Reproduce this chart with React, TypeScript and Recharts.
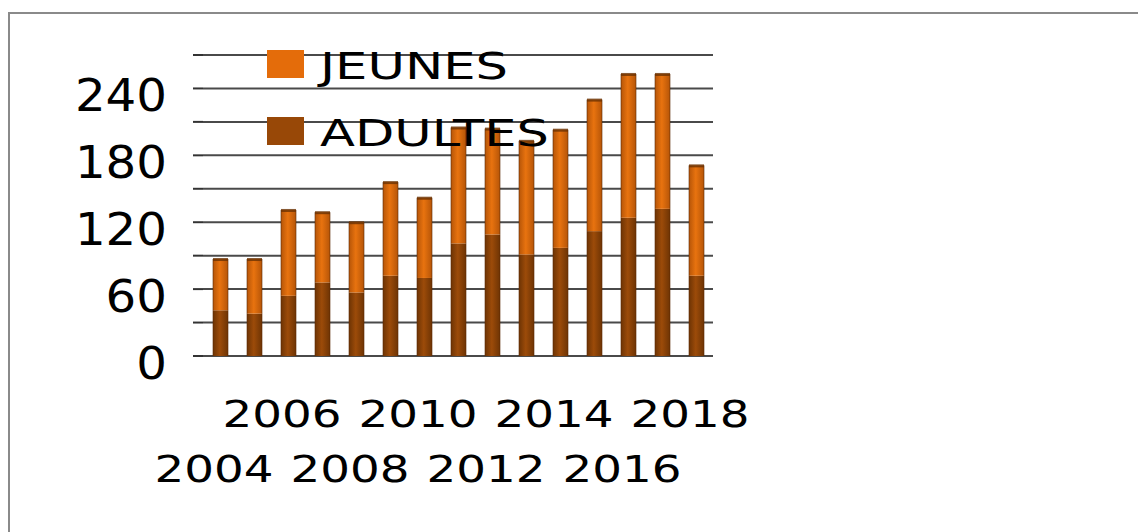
import { BarChart, Bar, XAxis, YAxis, CartesianGrid } from "recharts";

const YEARS = ["2004", "2005", "2006", "2007", "2008", "2009", "2010", "2011", "2012", "2013", "2014", "2015", "2016", "2017", "2018"];
const ADULTES = [41, 38, 54, 66, 57, 72, 70, 101, 109, 91, 97, 112, 124, 132, 72];
const JEUNES = [46, 49, 77, 63, 63, 84, 72, 104, 95, 102, 106, 118, 129, 121, 99];
const Y_TICKS = [0, 30, 60, 90, 120, 150, 180, 210, 240, 270];

const SERIES = [
  { key: "JEUNES", color: "#E46C0A", textLength: 188 },
  { key: "ADULTES", color: "#984807", textLength: 229 },
];

const FONT = "'DejaVu Sans', sans-serif";

const data = YEARS.map((year, i) => ({ year, ADULTES: ADULTES[i], JEUNES: JEUNES[i] }));

// width of each digit in the (stretched) original labels
const Y_DIGIT = 30.7;
const X_LABEL_W = 119;

function YTick({ x, y, payload }: any) {
  const v = payload.value;
  if (v % 60 !== 0 || v > 240) return null;
  const label = String(v);
  return (
    <text
      x={x}
      y={y + 7}
      textAnchor="end"
      dominantBaseline="central"
      fontFamily={FONT}
      fontSize={44}
      fill="#000"
      textLength={label.length * Y_DIGIT}
      lengthAdjust="spacingAndGlyphs"
    >
      {label}
    </text>
  );
}

function XTick({ x, y, payload, index }: any) {
  if (index % 2 !== 0) return null;
  const lower = index % 4 === 0;
  return (
    <text
      x={x - 6}
      y={y + (lower ? 113 : 58)}
      textAnchor="middle"
      dominantBaseline="central"
      fontFamily={FONT}
      fontSize={38}
      fill="#000"
      textLength={X_LABEL_W}
      lengthAdjust="spacingAndGlyphs"
    >
      {payload.value}
    </text>
  );
}

function CylBar(props: any) {
  const { x, y, width, height, fill } = props;
  if (!height || height <= 0) return null;
  return (
    <g>
      <rect x={x} y={y} width={width} height={height} fill={fill} />
      <line x1={x} y1={y} x2={x} y2={y + height} stroke="#5a2a04" strokeOpacity={0.6} />
      <line x1={x + width} y1={y} x2={x + width} y2={y + height} stroke="#5a2a04" strokeOpacity={0.6} />
    </g>
  );
}

function TopBar(props: any) {
  const { x, y, width } = props;
  return (
    <g>
      <CylBar {...props} />
      <rect x={x} y={y - 1} width={width} height={3} fill="#6a3204" opacity={0.8} />
    </g>
  );
}

function LegendBox() {
  return (
    <svg width={300} height={110} style={{ display: "block", overflow: "visible" }}>
      {SERIES.map((s, i) => (
        <g key={s.key} transform={`translate(0, ${i * 67})`}>
          <rect x={0} y={2} width={37} height={28} fill={s.color} />
          <text
            x={53}
            y={18}
            dominantBaseline="central"
            fontFamily={FONT}
            fontSize={38}
            fill="#000"
            textLength={s.textLength}
            lengthAdjust="spacingAndGlyphs"
          >
            {s.key}
          </text>
        </g>
      ))}
    </svg>
  );
}

export default function App() {
  return (
    <div
      style={{
        position: "absolute",
        left: 0,
        top: 0,
        width: 1138,
        height: 532,
        overflow: "hidden",
        background: "#fff",
      }}
    >
      <div
        style={{
          position: "absolute",
          left: 8,
          top: 12,
          width: 1200,
          height: 600,
          border: "2px solid #8a8a8a",
        }}
      />
      <div style={{ position: "absolute", left: 0, top: 0 }}>
        <BarChart
          width={1138}
          height={532}
          data={data}
          margin={{ top: 55, right: 425, bottom: 0, left: 0 }}
          barSize={15}
        >
          <defs>
            <linearGradient id="gJeunes" x1="0" y1="0" x2="1" y2="0">
              <stop offset="0%" stopColor="#b65508" />
              <stop offset="45%" stopColor="#e8730f" />
              <stop offset="100%" stopColor="#b65508" />
            </linearGradient>
            <linearGradient id="gAdultes" x1="0" y1="0" x2="1" y2="0">
              <stop offset="0%" stopColor="#6e3404" />
              <stop offset="45%" stopColor="#9c4b09" />
              <stop offset="100%" stopColor="#6e3404" />
            </linearGradient>
          </defs>
          <CartesianGrid vertical={false} stroke="#4a4a4a" strokeWidth={2} />
          <XAxis
            dataKey="year"
            interval={0}
            axisLine={false}
            tickLine={false}
            tickSize={0}
            tickMargin={0}
            height={176}
            tick={<XTick />}
          />
          <YAxis
            domain={[0, 270]}
            ticks={Y_TICKS}
            interval={0}
            width={203}
            axisLine={false}
            tickLine={{ stroke: "#333", strokeWidth: 2 }}
            tickSize={10}
            tickMargin={26}
            tick={<YTick />}
          />
          <Bar dataKey="ADULTES" stackId="a" fill="url(#gAdultes)" shape={<CylBar />} isAnimationActive={false} />
          <Bar dataKey="JEUNES" stackId="a" fill="url(#gJeunes)" shape={<TopBar />} isAnimationActive={false} />
        </BarChart>
      </div>
      <div style={{ position: "absolute", left: 267, top: 48, pointerEvents: "none" }}>
        <LegendBox />
      </div>
    </div>
  );
}
